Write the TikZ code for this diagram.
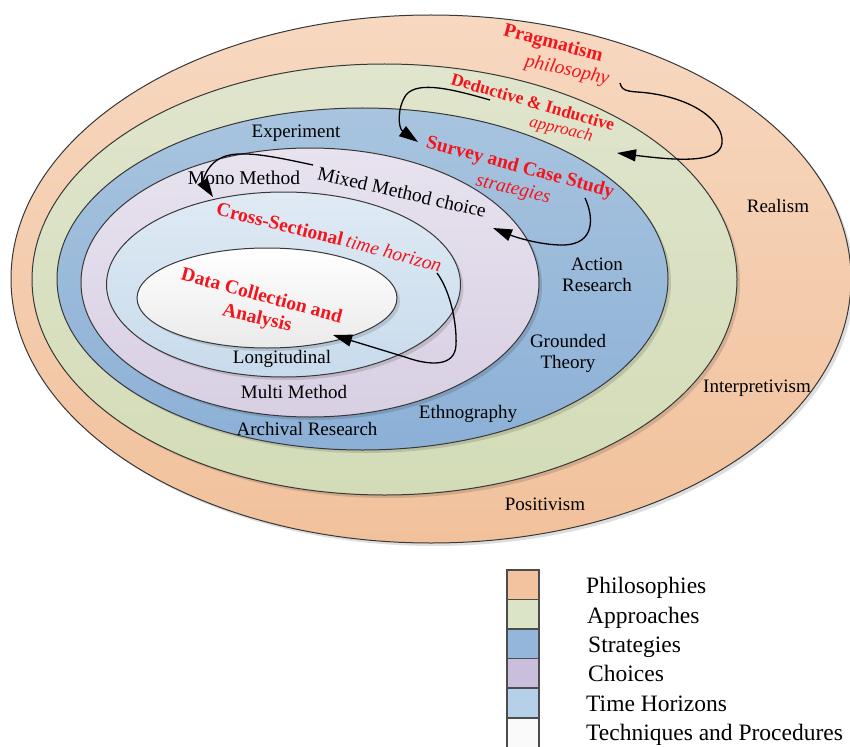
\documentclass[tikz,border=0pt]{standalone}
\usepackage{fontspec}
\setmainfont{Liberation Serif}[
  UprightFont=*,
  BoldFont=* Bold,
  ItalicFont=* Italic,
  BoldItalicFont=* Bold Italic]
\usetikzlibrary{arrows.meta}

% layer colours (top and bottom of each gradient)
\definecolor{philoTop}{HTML}{F7D8C0}
\definecolor{philoBot}{HTML}{F1C19B}
\definecolor{apprTop}{HTML}{E0E5CD}
\definecolor{apprBot}{HTML}{D3DCB7}
\definecolor{stratTop}{HTML}{A8C4DF}
\definecolor{stratBot}{HTML}{8CB0D6}
\definecolor{choiTop}{HTML}{E8E3EF}
\definecolor{choiBot}{HTML}{D8CFE3}
\definecolor{timeTop}{HTML}{DFEAF4}
\definecolor{timeBot}{HTML}{C8DBEC}
\definecolor{techTop}{HTML}{FFFFFF}
\definecolor{techBot}{HTML}{EAEAEA}
% legend swatches
\definecolor{kPhilo}{HTML}{F3C29E}
\definecolor{kAppr}{HTML}{DCE4C8}
\definecolor{kStrat}{HTML}{94B6DA}
\definecolor{kChoi}{HTML}{C9BFDD}
\definecolor{kTime}{HTML}{B7D0EA}
\definecolor{kTech}{HTML}{FAFAFA}
\definecolor{redtext}{HTML}{F5141B}

\begin{document}
\begin{tikzpicture}[x=1pt,y=-1pt,
  ring/.style={draw=black!78, line width=1pt},
  ringshadow/.style={fill=black, opacity=0.13},
  lbl/.style={font=\fontsize{19}{21}\selectfont, align=center, inner sep=0pt},
  lblbig/.style={font=\fontsize{19.5}{21}\selectfont, inner sep=0pt},
  redb/.style={text=redtext, font=\fontsize{19.5}{21}\selectfont\bfseries, inner sep=0pt},
  redi/.style={text=redtext, font=\fontsize{19.5}{21}\selectfont\itshape, inner sep=0pt},
  flow/.style={line width=1.3pt, -{Triangle[length=19pt,width=12pt]}},
  legbox/.style={draw=black!70, line width=1.2pt, minimum width=32pt, minimum height=29.5pt, inner sep=0pt},
  legtxt/.style={font=\fontsize{23.5}{25}\selectfont, anchor=base west, inner sep=0pt}
]
\clip (0,0) rectangle (850,746);

% ---- nested layers, outermost first ----
\fill[ringshadow] (434,282) ellipse [x radius=420, y radius=264];
\path[ring, top color=philoTop, bottom color=philoBot] (431,279) ellipse [x radius=420, y radius=264];
\fill[ringshadow] (387.5,282.5) ellipse [x radius=352.5, y radius=215.5];
\path[ring, top color=apprTop, bottom color=apprBot] (384.5,279.5) ellipse [x radius=352.5, y radius=215.5];
\fill[ringshadow] (365.5,282) ellipse [x radius=305.5, y radius=171];
\path[ring, top color=stratTop, bottom color=stratBot] (362.5,279) ellipse [x radius=305.5, y radius=171];
\fill[ringshadow] (313,285.5) ellipse [x radius=229, y radius=134.5];
\path[ring, top color=choiTop, bottom color=choiBot] (310,282.5) ellipse [x radius=229, y radius=134.5];
\fill[ringshadow] (286.5,287.5) ellipse [x radius=177, y radius=92.5];
\path[ring, top color=timeTop, bottom color=timeBot] (283.5,284.5) ellipse [x radius=177, y radius=92.5];
\fill[ringshadow] (270,301) ellipse [x radius=130, y radius=50];
\path[ring, top color=techTop, bottom color=techBot] (267,298) ellipse [x radius=130, y radius=50];

% ---- highlighted path (red) ----
\node[redb, rotate=-15] (prag) at (553,44) {Pragmatism};
\node[redi, rotate=-12] (philo) at (567,71) {philosophy};
\node[redb, font=\fontsize{17.5}{20}\selectfont\bfseries, rotate=-16] (dedu) at (533,102) {Deductive \& Inductive};
\node[redi, font=\fontsize{17}{20}\selectfont\itshape, rotate=-14] (appr) at (561,130) {approach};
\node[redb, rotate=-15] (surv) at (520,168) {Survey and Case Study};
\node[redi, rotate=-13] (strat) at (513,190) {strategies};
\node[redb, rotate=-14] (cross) at (280,224) {Cross-Sectional};
\node[redi, rotate=-15] (horiz) at (394,253) {time horizon};
\node[redb, rotate=-15] (data) at (262,295) {Data Collection and};
\node[redb, rotate=-13] (anal) at (257,319) {Analysis};

% ---- other options in each layer ----
\node[lbl] (real) at (778,206) {Realism};
\node[lbl] (interp) at (757,388) {Interpretivism};
\node[lbl] (posit) at (545,504) {Positivism};
\node[lbl] (exper) at (296,133) {Experiment};
\node[lbl] (action) at (597,275) {Action\\Research};
\node[lbl] (ground) at (568,353) {Grounded\\Theory};
\node[lbl] (ethno) at (468,414) {Ethnography};
\node[lbl] (archiv) at (307,429) {Archival Research};
\node[lblbig] (mono) at (244,178) {Mono Method};
\node[lblbig, rotate=-13] (mixed) at (402,192) {Mixed Method choice};
\node[lbl] (multi) at (294,392) {Multi Method};
\node[lbl] (longi) at (282,359) {Longitudinal};

% ---- arrows linking the chosen options ----
\coordinate (a1s) at (620,83);  \coordinate (a1e) at (617,153);
\coordinate (a2s) at (490,100); \coordinate (a2e) at (418,142);
\coordinate (a3s) at (585,198); \coordinate (a3e) at (493,228);
\coordinate (a4s) at (313,165); \coordinate (a4e) at (213,197);
\coordinate (a5s) at (437,273); \coordinate (a5e) at (333,335);

\draw[flow] (a1s) .. controls (622,93) and (632,91) .. (648,93)
  .. controls (695,99) and (724,122) .. (722,143)
  .. controls (720,163) and (680,161) .. (a1e);
\draw[flow] (a2s) .. controls (455,90) and (418,80) .. (406,95)
  .. controls (397,108) and (398,128) .. (a2e);
\draw[flow] (a3s) .. controls (593,215) and (597,245) .. (562,245)
  .. controls (540,245) and (515,237) .. (a3e);
\draw[flow] (a4s) .. controls (280,158) and (245,150) .. (226,156)
  .. controls (206,162) and (203,182) .. (a4e);
\draw[flow] (a5s) .. controls (451,292) and (457,325) .. (456,345)
  .. controls (455,367) and (430,366) .. (405,357) -- (a5e);

% ---- legend ----
\node[legbox, fill=kPhilo] (k1) at (523,584.75) {};
\node[legbox, fill=kAppr]  (k2) at (523,614.25) {};
\node[legbox, fill=kStrat] (k3) at (523,643.75) {};
\node[legbox, fill=kChoi]  (k4) at (523,673.25) {};
\node[legbox, fill=kTime]  (k5) at (523,702.75) {};
\node[legbox, fill=kTech, minimum height=36pt, anchor=north] (k6) at (523,717.5) {};
\node[legtxt] (t1) at (586,593) {Philosophies};
\node[legtxt] (t2) at (587,623) {Approaches};
\node[legtxt] (t3) at (588,652) {Strategies};
\node[legtxt] (t4) at (588,681) {Choices};
\node[legtxt] (t5) at (586,711) {Time Horizons};
\node[legtxt] (t6) at (586,740) {Techniques and Procedures};
\end{tikzpicture}
\end{document}
